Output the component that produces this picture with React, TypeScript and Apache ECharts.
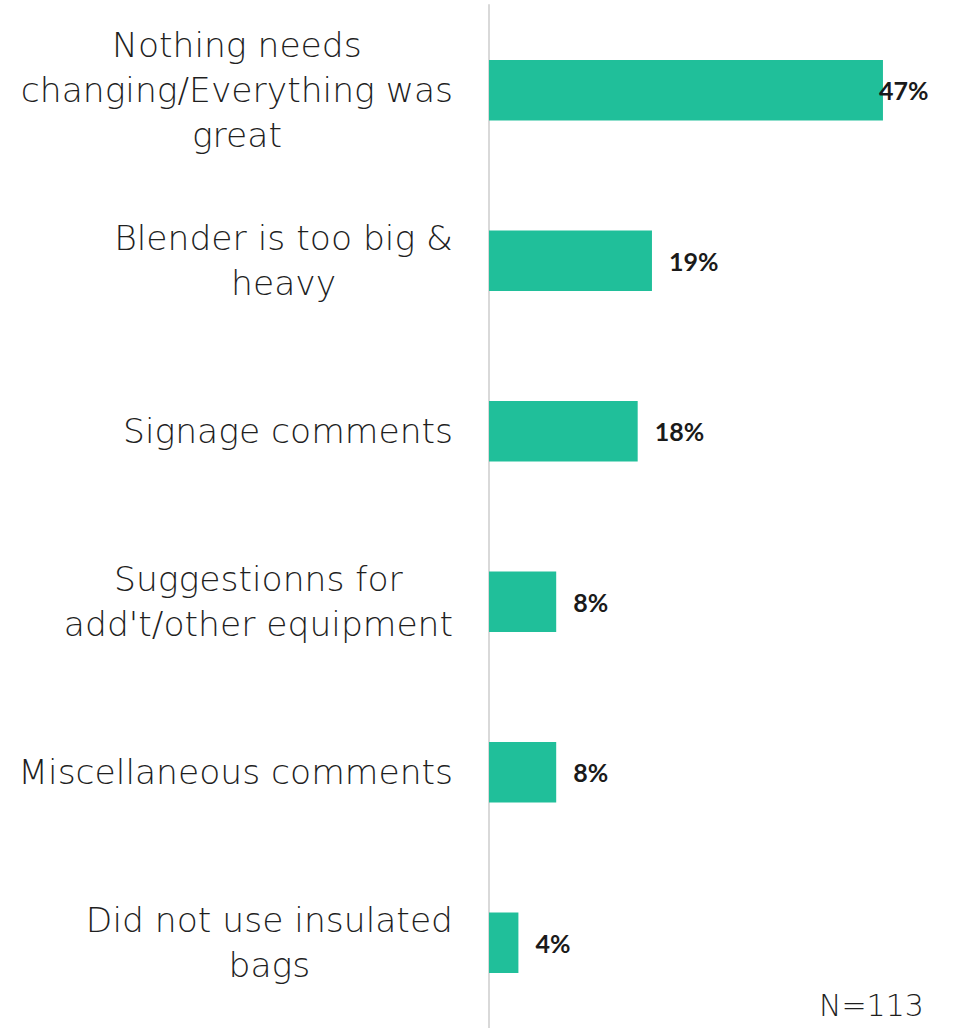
import React, { useEffect, useRef } from "react";
import * as echarts from "echarts";

const categories = [
  "Nothing needs\nchanging/Everything was\ngreat",
  "Blender is too big &\nheavy",
  "Signage comments",
  "Suggestionns for\nadd't/other equipment",
  "Miscellaneous comments",
  "Did not use insulated\nbags",
];
const values = [46.9, 19.4, 17.7, 8.0, 8.0, 3.5];
const sampleNote = "N=113";

export default function App() {
  const ref = useRef<HTMLDivElement>(null);
  useEffect(() => {
    document.body.style.margin = "0";
    const chart = echarts.init(ref.current!, undefined, { renderer: "svg" });
    chart.setOption({
      animation: false,
      grid: { left: 489, top: 5, height: 1028, right: 47 },
      xAxis: {
        type: "value",
        min: 0,
        max: 50,
        show: false,
      },
      yAxis: {
        type: "category",
        inverse: true,
        data: categories,
        axisLine: { show: true, lineStyle: { color: "#d9d9d9", width: 2 } },
        axisTick: { show: false },
        axisLabel: {
          margin: 36,
          align: "right",
          formatter: (v: string) =>
            v
              .split("\n")
              .map((l) => "{a|" + l + "}")
              .join("\n"),
          rich: {
            a: {
              align: "center",
              fontFamily: "DejaVu Sans",
              fontWeight: 300,
              fontSize: 34.5,
              lineHeight: 45,
              color: "#1f1f1f",
            },
          },
        },
      },
      series: [
        {
          type: "bar",
          data: values.map((v, i) =>
            i === 0
              ? { value: v, label: { offset: [-21, 0] } }
              : { value: v }
          ),
          barWidth: "35.6%",
          itemStyle: { color: "#20BF9A" },
          label: {
            show: true,
            position: "right",
            distance: 17,
            formatter: (p: any) => Math.round(p.value) + "%",
            fontFamily: "Lato",
            fontWeight: "bold",
            fontSize: 25,
            color: "#1a1a1a",
          },
        },
      ],
      graphic: [
        {
          type: "text",
          left: 819,
          top: 990,
          style: {
            text: sampleNote,
            font: "300 30px 'DejaVu Sans'",
            fill: "#1f1f1f",
          },
        },
      ],
    });
    return () => chart.dispose();
  }, []);
  return <div ref={ref} style={{ width: 956, height: 1028 }} />;
}
